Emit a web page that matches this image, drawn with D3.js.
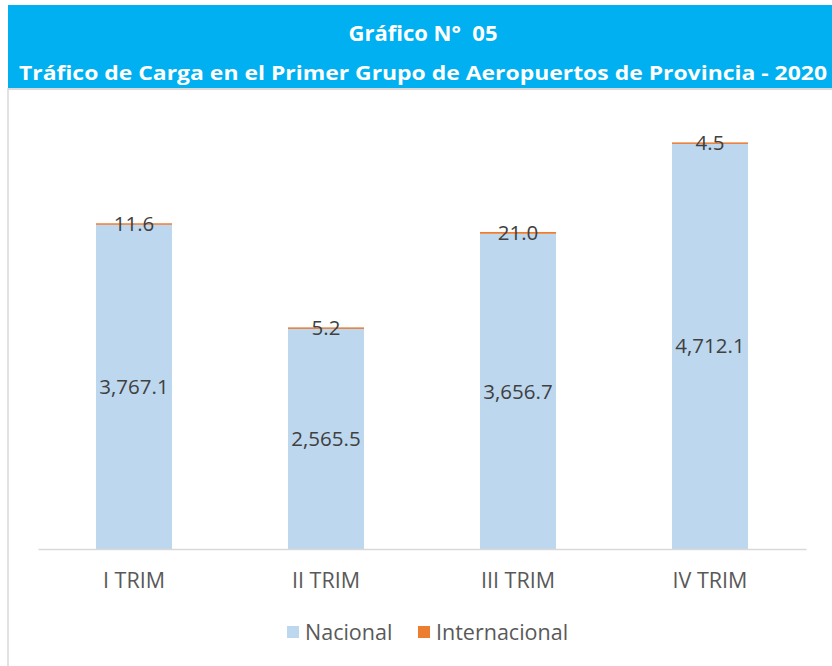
<!DOCTYPE html>
<html>
<head>
<meta charset="utf-8">
<script src="https://cdn.jsdelivr.net/npm/d3@7"></script>
<style>
  html, body { margin: 0; padding: 0; background: #fff; }
  svg { display: block; }
</style>
</head>
<body>
<svg id="chart" width="832" height="666"></svg>
<script>
const categories = ["I TRIM", "II TRIM", "III TRIM", "IV TRIM"];
const nacional = [3767.1, 2565.5, 3656.7, 4712.1];
const internacional = [11.6, 5.2, 21.0, 4.5];
const seriesNames = ["Nacional", "Internacional"];
const seriesColors = ["#BDD7EE", "#ED7D31"];
const titleLine1 = "Gráfico N°  05";
const titleLine2 = "Tráfico de Carga en el Primer Grupo de Aeropuertos de Provincia - 2020";

const svg = d3.select("#chart");
const FONT = "'Open Sans', 'Noto Sans', sans-serif";

// header band
svg.append("rect").attr("x", 8).attr("y", 5).attr("width", 824).attr("height", 83).attr("fill", "#00B0F0");
svg.append("line").attr("x1", 8).attr("x2", 832).attr("y1", 89).attr("y2", 89).attr("stroke", "#D9D9D9").attr("stroke-width", 2);
svg.append("line").attr("x1", 8).attr("x2", 8).attr("y1", 88).attr("y2", 666).attr("stroke", "#D9D9D9").attr("stroke-width", 1.5);

svg.append("text").attr("x", 423).attr("y", 41).attr("text-anchor", "middle")
  .attr("font-family", FONT).attr("font-weight", "bold").attr("font-size", 22)
  .attr("fill", "#fff").style("white-space", "pre").text(titleLine1);
svg.append("text").attr("x", 423).attr("y", 80).attr("text-anchor", "middle")
  .attr("font-family", FONT).attr("font-weight", "bold").attr("font-size", 20)
  .attr("textLength", 808).attr("lengthAdjust", "spacingAndGlyphs")
  .attr("fill", "#fff").text(titleLine2);

const x = d3.scaleBand().domain(categories).range([38, 806]).paddingInner(0.604).paddingOuter(0.302);
const y = d3.scaleLinear().domain([0, 5000]).range([549, 118]);

const data = categories.map((c, i) => ({ cat: c, Nacional: nacional[i], Internacional: internacional[i] }));
const stacked = d3.stack().keys(seriesNames)(data);

const g = svg.append("g");
stacked.forEach((layer, li) => {
  g.selectAll(null).data(layer).enter().append("rect")
    .attr("x", d => x(d.data.cat))
    .attr("width", x.bandwidth())
    .attr("y", d => y(d[1]))
    .attr("height", d => Math.max(y(d[0]) - y(d[1]), li === 1 ? 1.5 : 0))
    .attr("fill", seriesColors[li]);
});

// axis baseline
const xAxis = svg.append("g").attr("transform", "translate(0,549)")
  .call(d3.axisBottom(x).tickSize(0).tickPadding(0));
xAxis.select(".domain").attr("stroke", "#D9D9D9").attr("stroke-width", 1.5);
xAxis.selectAll("text").attr("font-family", FONT).attr("font-size", 21.5)
  .attr("fill", "#595959").attr("dy", null).attr("y", 39);

const fmt = d3.format(",.1f");
// data labels
stacked.forEach((layer, li) => {
  g.selectAll(null).data(layer).enter().append("text")
    .attr("x", d => x(d.data.cat) + x.bandwidth() / 2)
    .attr("y", d => (y(d[0]) + y(d[1])) / 2)
    .attr("dy", "0.35em")
    .attr("text-anchor", "middle")
    .attr("font-family", FONT).attr("font-size", 20.5)
    .attr("fill", "#404040")
    .text(d => fmt(d.data[seriesNames[li]]));
});

// legend
const legend = svg.append("g");
const legendPos = [287, 418];
seriesNames.forEach((n, i) => {
  legend.append("rect").attr("x", legendPos[i]).attr("y", 626).attr("width", 12).attr("height", 12).attr("fill", seriesColors[i]);
  legend.append("text").attr("x", legendPos[i] + 18).attr("y", 632).attr("dy", "0.35em")
    .attr("font-family", FONT).attr("font-size", 21.5).attr("fill", "#595959").text(n);
});
</script>
</body>
</html>
